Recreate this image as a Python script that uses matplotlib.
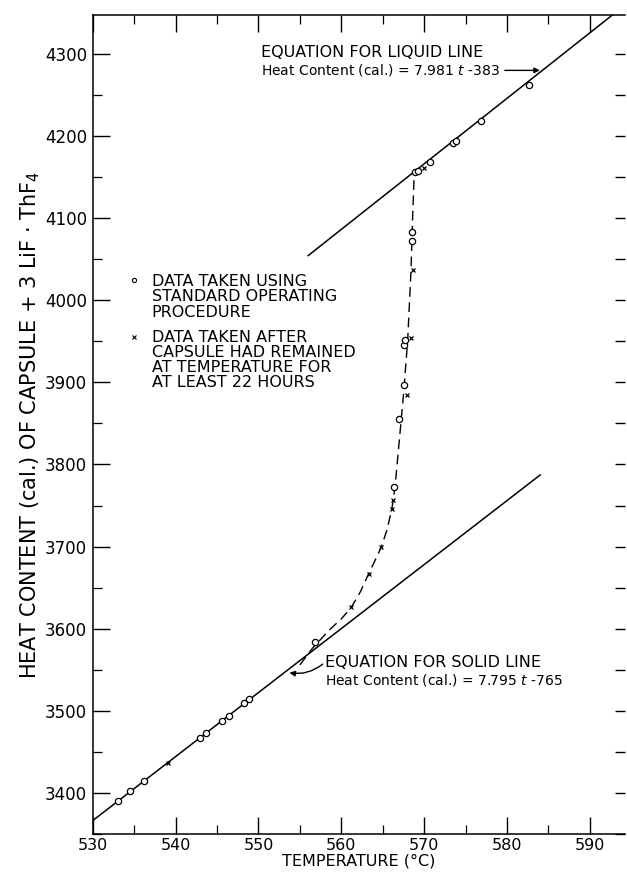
import matplotlib
matplotlib.use("Agg")
import matplotlib.pyplot as plt
import numpy as np

# ---- data ----
# standard procedure (circles)
circ_t = [533.0, 534.5, 536.2, 542.9, 543.7, 545.6, 546.4, 548.3, 548.9, 556.8,
          566.35, 567.0, 567.6, 567.6, 567.7, 568.5, 568.5,
          568.9, 569.3, 570.7, 573.5, 573.8, 576.8, 582.7]
circ_h = [3390, 3402, 3415, 3467, 3473, 3488, 3494, 3509, 3514, 3584,
          3772, 3856, 3897, 3945, 3952, 4072, 4083,
          4156, 4157, 4168, 4192, 4194, 4218, 4262]
# after 22 hours (crosses)
x_t = [539.1, 561.2, 563.3, 564.8, 566.1, 566.2, 567.9, 568.4, 568.6, 570.0]
x_h = [3437, 3626, 3667, 3699, 3746, 3757, 3885, 3954, 4037, 4161]
# dashed transition curve
curve_t = [555.0, 556.5, 558.5, 560.0, 561.2, 562.3, 563.3, 564.2, 564.8, 565.5,
           566.1, 566.5, 567.0, 567.5, 568.0, 568.4, 568.6, 568.8]
curve_h = [3556, 3576, 3598, 3612, 3626, 3645, 3667, 3686, 3699, 3720,
           3746, 3775, 3830, 3885, 3950, 4035, 4100, 4156]
# fitted lines: Heat = a*t + b
solid_a, solid_b = 7.795, -765
solid_range = [530, 584]
liquid_a, liquid_b = 7.981, -383
liquid_range = [556, 600]

xticks = [530, 540, 550, 560, 570, 580, 590]
yticks = [3400, 3500, 3600, 3700, 3800, 3900, 4000, 4100, 4200, 4300]

legend1 = ['DATA TAKEN USING', 'STANDARD OPERATING', 'PROCEDURE']
legend2 = ['DATA TAKEN AFTER', 'CAPSULE HAD REMAINED', 'AT TEMPERATURE FOR', 'AT LEAST 22 HOURS']

plt.rcParams['font.family'] = ['DejaVu Sans']

fig = plt.figure(figsize=(6.27, 8.74), dpi=100)
ax = fig.add_axes([0.148, 0.0458, 0.849, 0.9370])
ax.set_xlim(530, 594.25)
ax.set_ylim(3351.3, 4347.4)

st = np.array(solid_range, dtype=float)
ax.plot(st, solid_a * st + solid_b, color='black', lw=1.1)
lt = np.array(liquid_range, dtype=float)
ax.plot(lt, liquid_a * lt + liquid_b, color='black', lw=1.1)

ax.plot(curve_t, curve_h, color='black', lw=1.0, dashes=(7, 4))

ax.plot(circ_t, circ_h, 'o', ms=4.5, mfc='white', mec='black', mew=0.9, ls='none')
ax.plot(x_t, x_h, 'x', ms=3.5, color='black', mew=0.9, ls='none')

# ticks
ax.set_xticks(xticks)
ax.set_xticks(np.arange(535, 595, 10), minor=True)
ax.set_yticks(yticks)
ax.set_yticks(np.arange(3350, 4350, 100), minor=True)
ax.tick_params(axis='both', which='major', direction='in', length=12.5, width=1.0,
               labelsize=12, top=True, right=False)
ax.tick_params(axis='both', which='minor', direction='in', length=6.5, width=0.9,
               top=True, right=False)
ax.tick_params(axis='y', which='both', pad=4)
ax.tick_params(axis='x', which='both', pad=3, labelsize=11.5)
for s in ax.spines.values():
    s.set_linewidth(1.1)
ax.spines['right'].set_visible(False)

# right-hand ticks (shorter, every 50)
axr = ax.twinx()
axr.set_ylim(ax.get_ylim())
axr.set_yticks(yticks)
axr.set_yticks(np.arange(3350, 4350, 100), minor=True)
axr.tick_params(axis='y', which='both', direction='in', length=7, width=1.0,
                labelright=False)
for s in axr.spines.values():
    s.set_visible(False)

ax.set_xlabel('TEMPERATURE (°C)', fontsize=11.5, labelpad=0)
ax.set_ylabel('HEAT CONTENT (cal.) OF CAPSULE + 3 LiF · ThF$_4$', fontsize=15, labelpad=2)

# annotations
ax.text(550.3, 4302, 'EQUATION FOR LIQUID LINE', fontsize=11.5, va='center')
ax.text(550.3, 4280, 'Heat Content (cal.) = 7.981 $t$ -383', fontsize=10, va='center')
ax.annotate('', xy=(584.3, 4280), xytext=(579.4, 4280),
            arrowprops=dict(arrowstyle='-|>', color='black', lw=1.0, mutation_scale=8))

ax.text(558.0, 3559, 'EQUATION FOR SOLID LINE', fontsize=11.5, va='center')
ax.text(558.0, 3537, 'Heat Content (cal.) = 7.795 $t$ -765', fontsize=10, va='center')
ax.annotate('', xy=(553.4, 3547), xytext=(558.0, 3559),
            arrowprops=dict(arrowstyle='-|>', color='black', lw=1.0, mutation_scale=8,
                            connectionstyle='arc3,rad=-0.25'))

# legend text
ax.plot([535.0], [4025], 'o', ms=3, mfc='white', mec='black', mew=0.8)
for i, s in enumerate(legend1):
    ax.text(537.1, 4022.6 - i * 18.6, s, fontsize=11.5, va='center', ha='left')
ax.plot([535.0], [3955.7], 'x', ms=3, color='black', mew=0.8)
for i, s in enumerate(legend2):
    ax.text(537.1, 3954.5 - i * 18.2, s, fontsize=11.5, va='center', ha='left')

fig.savefig('out.png', dpi=100)
